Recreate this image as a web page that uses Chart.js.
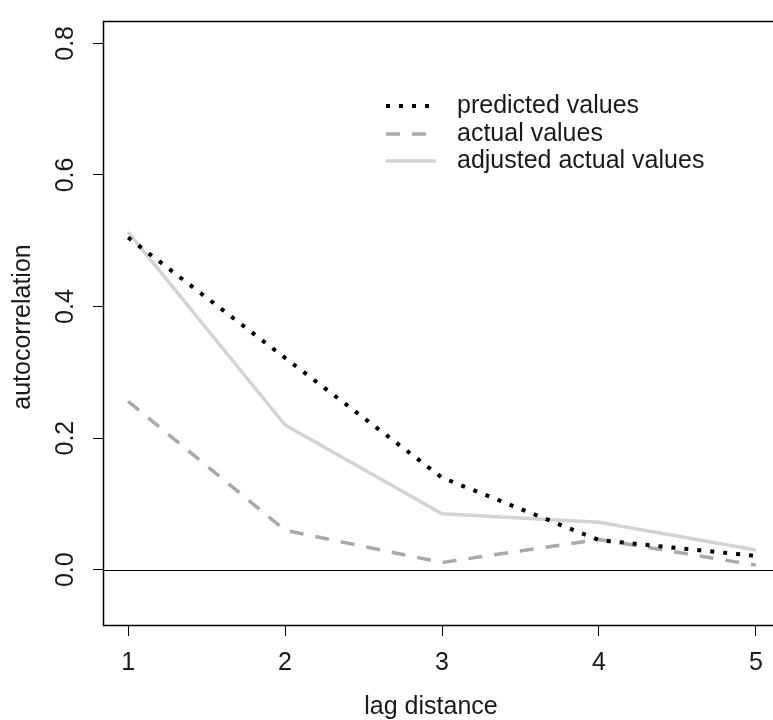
<!DOCTYPE html>
<html lang="en">
<head>
    <meta charset="UTF-8">
    <title>Autocorrelation by lag distance</title>
    <script src="https://cdn.jsdelivr.net/npm/chart.js"></script>
    <style>
        html, body {
            margin: 0;
            padding: 0;
            background: #fff;
            overflow: hidden;
        }

        .chart-box {
            width: 790px;
            height: 720px;
        }
    </style>
</head>
<body>

    <div class="chart-box">
        <canvas id="acfChart" width="790" height="720"></canvas>
    </div>

    <script>
        // values
        const lags = [1, 2, 3, 4, 5];
        const predictedValues = [0.505, 0.322, 0.140, 0.045, 0.021];
        const actualValues = [0.256, 0.060, 0.011, 0.046, 0.007];
        const adjustedValues = [0.513, 0.220, 0.085, 0.072, 0.030];
        const yTickValues = [0.0, 0.2, 0.4, 0.6, 0.8];
        const yTickLabels = ["0.0", "0.2", "0.4", "0.6", "0.8"];
        const seriesLabels = ["predicted values", "actual values", "adjusted actual values"];

        const FONT = "'Liberation Sans', Arial, sans-serif";
        const FONT_SIZE = 25;

        function toPoints(values) {
            return lags.map((lag, i) => ({ x: lag, y: values[i] }));
        }

        // box, zero line, rotated y labels, axis titles and the legend, R style
        const rStylePlugin = {
            id: 'rStyle',
            afterDraw(chart) {
                const ctx = chart.ctx;
                const area = chart.chartArea;
                const yScale = chart.scales.y;

                ctx.save();

                // abline(h = 0)
                const y0 = Math.round(yScale.getPixelForValue(0)) + 0.5;
                ctx.strokeStyle = '#000';
                ctx.lineWidth = 1.2;
                ctx.setLineDash([]);
                ctx.beginPath();
                ctx.moveTo(area.left, y0);
                ctx.lineTo(area.right, y0);
                ctx.stroke();

                // box()
                ctx.lineWidth = 1.5;
                ctx.strokeRect(area.left + 0.5, area.top + 0.5, area.right - area.left, area.bottom - area.top);

                // y tick labels, rotated like R's las = 0
                ctx.fillStyle = '#1a1a1a';
                ctx.font = FONT_SIZE + 'px ' + FONT;
                ctx.textAlign = 'center';
                ctx.textBaseline = 'middle';
                yTickValues.forEach((v, i) => {
                    const py = yScale.getPixelForValue(v);
                    ctx.save();
                    ctx.translate(66, py);
                    ctx.rotate(-Math.PI / 2);
                    ctx.fillText(yTickLabels[i], 0, 0);
                    ctx.restore();
                });

                // axis titles
                ctx.save();
                ctx.translate(23, (area.top + area.bottom) / 2 + 4);
                ctx.rotate(-Math.PI / 2);
                ctx.fillText('autocorrelation', 0, 0);
                ctx.restore();
                ctx.fillText('lag distance', 431, 707);

                // legend
                const rows = [106, 134, 161];
                chart.data.datasets.forEach((ds, i) => {
                    ctx.strokeStyle = ds.borderColor;
                    ctx.lineWidth = ds.borderWidth;
                    ctx.setLineDash(ds.borderDash || []);
                    ctx.beginPath();
                    ctx.moveTo(386, rows[i]);
                    ctx.lineTo(436, rows[i]);
                    ctx.stroke();
                    ctx.setLineDash([]);
                    ctx.fillStyle = '#1a1a1a';
                    ctx.textAlign = 'left';
                    ctx.fillText(ds.label, 457, rows[i]);
                });

                ctx.restore();
            }
        };

        const ctx = document.getElementById('acfChart').getContext('2d');

        new Chart(ctx, {
            type: 'line',
            data: {
                datasets: [
                    {
                        label: seriesLabels[0],
                        data: toPoints(predictedValues),
                        borderColor: '#000000',
                        borderWidth: 4,
                        borderDash: [4, 9],
                        borderCapStyle: 'butt',
                        pointRadius: 0,
                        tension: 0,
                        order: 0
                    },
                    {
                        label: seriesLabels[1],
                        data: toPoints(actualValues),
                        borderColor: '#a9a9a9',
                        borderWidth: 3.5,
                        borderDash: [14, 12],
                        borderCapStyle: 'butt',
                        pointRadius: 0,
                        tension: 0,
                        order: 2
                    },
                    {
                        label: seriesLabels[2],
                        data: toPoints(adjustedValues),
                        borderColor: '#d3d3d3',
                        borderWidth: 3.5,
                        pointRadius: 0,
                        tension: 0,
                        order: 1
                    }
                ]
            },
            options: {
                responsive: false,
                animation: false,
                layout: {
                    padding: { left: 0, top: 21, right: 9, bottom: 0 }
                },
                plugins: {
                    legend: { display: false },
                    tooltip: { enabled: false }
                },
                scales: {
                    x: {
                        type: 'linear',
                        min: 0.84,
                        max: 5.16,
                        afterBuildTicks: (scale) => {
                            scale.ticks = lags.map(v => ({ value: v }));
                        },
                        afterFit: (scale) => { scale.height = 95; },
                        border: { display: false },
                        grid: {
                            drawOnChartArea: false,
                            drawTicks: true,
                            tickLength: 11,
                            color: '#000',
                            lineWidth: 1
                        },
                        ticks: {
                            color: '#1a1a1a',
                            font: { family: FONT, size: FONT_SIZE },
                            padding: 12,
                            maxRotation: 0,
                            callback: (v) => String(v)
                        }
                    },
                    y: {
                        type: 'linear',
                        min: -0.084,
                        max: 0.834,
                        afterBuildTicks: (scale) => {
                            scale.ticks = yTickValues.map(v => ({ value: v }));
                        },
                        afterFit: (scale) => { scale.width = 103; },
                        border: { display: false },
                        grid: {
                            drawOnChartArea: false,
                            drawTicks: true,
                            tickLength: 10,
                            color: '#000',
                            lineWidth: 1
                        },
                        ticks: {
                            display: false
                        }
                    }
                }
            },
            plugins: [rStylePlugin]
        });
    </script>

</body>
</html>
